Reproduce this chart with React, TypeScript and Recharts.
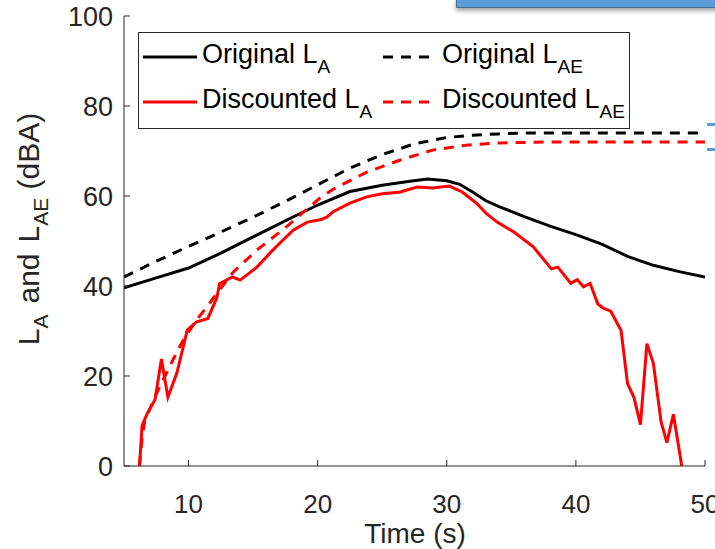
import React from "react";
import { LineChart, Line, XAxis, YAxis } from "recharts";

// time (s) and level (dBA)
const originalLaTime = [5, 7.5, 10, 12.5, 15, 17.5, 20, 22.5, 25, 27, 28.5, 30, 31, 32, 33, 34, 36, 38, 40, 42, 44, 46, 48, 50];
const originalLa = [39.6, 41.8, 44, 47.3, 50.9, 54.5, 58, 61, 62.4, 63.2, 63.8, 63.4, 62.6, 60.9, 59, 57.7, 55.4, 53.3, 51.4, 49.3, 46.6, 44.6, 43.2, 42];

const originalLaeTime = [5, 7.5, 10, 12.5, 15, 17.5, 20, 22.5, 25, 27.5, 30, 32, 34, 36, 40, 45, 50];
const originalLae = [42, 45.5, 48.8, 52, 55.3, 58.8, 62.5, 66.2, 69.2, 71.6, 73, 73.5, 73.8, 74, 74, 74, 74];

const discountedLaTime = [
  6.2, 6.4, 6.8, 7.4, 7.9, 8.4, 9.1, 9.9, 10.6, 11.5, 12.2, 12.4, 13.4, 14, 15.3, 16.3, 17.1, 18.1, 19.2, 20.2,
  20.7, 21.2, 22.5, 23.8, 25, 26.4, 27.7, 28.9, 30.2, 31.2, 32.3, 33.1, 33.9, 35.2, 36.7, 38.1, 38.6, 39.6, 40.1,
  40.6, 41.1, 41.7, 42.1, 42.7, 43.5, 44, 44.5, 45, 45.5, 46, 46.6, 47.05, 47.55, 48.2,
];
const discountedLa = [
  0, 9, 11.7, 14.7, 23.8, 15.3, 20.7, 30.2, 32, 32.8, 37.5, 40.5, 42, 41.3, 44.2, 47.3, 49.6, 52.4, 54.2, 54.7,
  55.3, 56.5, 58.4, 59.8, 60.5, 60.9, 62, 61.8, 62.2, 60.9, 58.4, 56, 54.2, 52, 48.7, 43.8, 44.2, 40.6, 41.4,
  39.8, 40.6, 36, 35.1, 34.4, 30.1, 18.3, 15.2, 9.2, 27.2, 22.8, 9.8, 5.2, 11.5, 0,
];

const discountedLaeTime = [6.2, 6.4, 6.6, 7.5, 8.6, 9.5, 10.5, 11.4, 12.5, 13.4, 15.3, 17.6, 20.2, 21.2, 23.8, 26.4, 28.9, 31.5, 34.1, 38, 50];
const discountedLae = [0, 6, 10, 16, 22.5, 27.5, 32, 35.3, 39.5, 42.9, 48, 53.2, 59.6, 61.5, 65.3, 68, 70.2, 71.3, 71.8, 72, 72];

const timeTicks = [10, 20, 30, 40, 50];
const levelTicks = [0, 20, 40, 60, 80, 100];

const toPoints = (t: number[], v: number[]) => t.map((x, i) => ({ t: x, v: v[i] }));

const FONT = '"Liberation Sans", Arial, Helvetica, sans-serif';
const AXIS = "#262626";

function YTick({ x, y, payload }: any) {
  return (
    <g>
      <line x1={x} x2={x + 6} y1={y} y2={y} stroke={AXIS} />
      <text x={x - 11} y={y + 10} textAnchor="end" fontSize={27} fill={AXIS} fontFamily={FONT}>
        {payload.value}
      </text>
    </g>
  );
}

function XTick({ x, y, payload }: any) {
  return (
    <g>
      <line x1={x} x2={x} y1={y} y2={y - 6} stroke={AXIS} />
      <text x={x} y={y + 47} textAnchor="middle" fontSize={26} fill={AXIS} fontFamily={FONT}>
        {payload.value}
      </text>
    </g>
  );
}

function YLabel() {
  return (
    <text
      x={39}
      y={229}
      transform="rotate(-90 39 229)"
      textAnchor="middle"
      fontSize={30}
      fill={AXIS}
      fontFamily={FONT}
    >
      L
      <tspan dy={9} fontSize={21}>A</tspan>
      <tspan dy={-9} dx={11}>and</tspan>
      <tspan dx={11}>L</tspan>
      <tspan dy={9} fontSize={21}>AE</tspan>
      <tspan dy={-9}> (dBA)</tspan>
    </text>
  );
}

function XLabel() {
  return (
    <text x={415} y={543} textAnchor="middle" fontSize={28} fill={AXIS} fontFamily={FONT}>
      Time (s)
    </text>
  );
}

const legendItems = [
  { name: "Original L", sub: "A", color: "#000", dash: undefined, col: 0, row: 0 },
  { name: "Original L", sub: "AE", color: "#000", dash: "10 8", col: 1, row: 0 },
  { name: "Discounted L", sub: "A", color: "#ff0000", dash: undefined, col: 0, row: 1 },
  { name: "Discounted L", sub: "AE", color: "#ff0000", dash: "10 8", col: 1, row: 1 },
];

function LegendBox() {
  return (
    <svg width={492} height={97} style={{ display: "block" }}>
      <rect x={0.5} y={0.5} width={491} height={96} fill="#fff" stroke={AXIS} />
      {legendItems.map((it) => {
        const x0 = it.col === 0 ? 5 : 245;
        const ly = it.row === 0 ? 25 : 70;
        return (
          <g key={it.name + it.sub}>
            <line x1={x0} x2={x0 + 54} y1={ly} y2={ly} stroke={it.color} strokeWidth={3} strokeDasharray={it.dash} />
            <text x={x0 + 59} y={ly + 6} fontSize={27} fill="#000" fontFamily={FONT}>
              {it.name}
              <tspan dy={10} fontSize={19}>{it.sub}</tspan>
            </text>
          </g>
        );
      })}
    </svg>
  );
}

export default function App() {
  return (
    <div style={{ position: "absolute", left: 0, top: 0, width: 715, height: 549, overflow: "hidden", background: "#fff" }}>
      <LineChart width={725} height={549} margin={{ top: 16, right: 20, bottom: 0, left: 0 }}>
        <XAxis
          dataKey="t"
          type="number"
          domain={[5, 50]}
          ticks={timeTicks}
          allowDataOverflow
          height={83}
          tickSize={0}
          tickMargin={0}
          tickLine={false}
          axisLine={{ stroke: AXIS }}
          tick={<XTick />}
          label={{ content: () => <XLabel /> }}
        />
        <YAxis
          type="number"
          domain={[0, 100]}
          ticks={levelTicks}
          allowDataOverflow
          width={124}
          tickSize={0}
          tickMargin={0}
          tickLine={false}
          axisLine={{ stroke: AXIS }}
          tick={<YTick />}
          label={{ content: () => <YLabel /> }}
        />
        <Line data={toPoints(originalLaTime, originalLa)} dataKey="v" type="linear" stroke="#000" strokeWidth={3} dot={false} isAnimationActive={false} />
        <Line data={toPoints(originalLaeTime, originalLae)} dataKey="v" type="linear" stroke="#000" strokeWidth={3} strokeDasharray="10 8" dot={false} isAnimationActive={false} />
        <Line data={toPoints(discountedLaTime, discountedLa)} dataKey="v" type="linear" stroke="#ff0000" strokeWidth={3} dot={false} isAnimationActive={false} />
        <Line data={toPoints(discountedLaeTime, discountedLae)} dataKey="v" type="linear" stroke="#ff0000" strokeWidth={3} strokeDasharray="10 8" dot={false} isAnimationActive={false} />
      </LineChart>
      <div style={{ position: "absolute", left: 138, top: 32 }}>
        <LegendBox />
      </div>
      {/* slide decorations peeking in at the edges */}
      <div style={{ position: "absolute", left: 456, top: -4, width: 270, height: 10, background: "#5b9bd5", border: "1px solid #41719c", boxShadow: "0 3px 4px rgba(0,0,0,0.35)" }} />
      <div style={{ position: "absolute", left: 707, top: 123, width: 8, height: 3, background: "#5b9bd5" }} />
      <div style={{ position: "absolute", left: 707, top: 148, width: 8, height: 3, background: "#5b9bd5" }} />
    </div>
  );
}
